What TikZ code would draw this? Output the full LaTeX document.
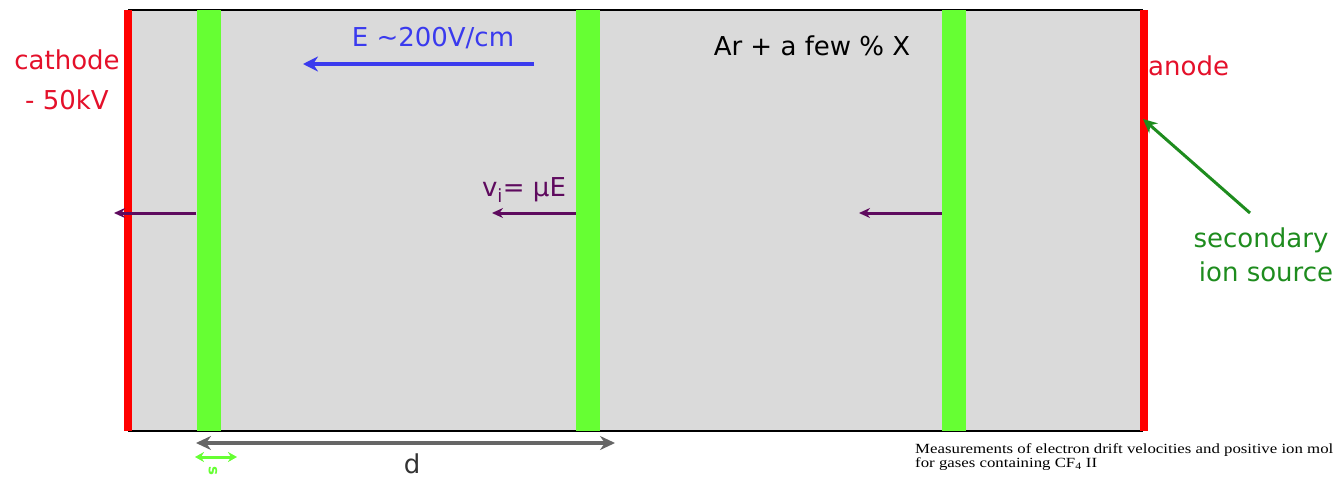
\documentclass[tikz,border=0pt]{standalone}
\usepackage{fontspec}
\setmainfont{DejaVu Sans}
\newfontfamily\capfont{Liberation Serif}
\usetikzlibrary{arrows.meta}
\definecolor{gasgray}{HTML}{DADADA}
\definecolor{elred}{HTML}{FF0000}
\definecolor{txtred}{HTML}{E4102A}
\definecolor{ionband}{HTML}{66FF33}
\definecolor{ionpurple}{HTML}{5E0A5E}
\definecolor{fieldblue}{HTML}{3A3AEE}
\definecolor{srcgreen}{HTML}{1E8C1E}
\definecolor{dimgray}{HTML}{666666}
\tikzset{
  lbl/.style={inner sep=0pt, font=\fontsize{26}{31}\selectfont},
  redbar/.style={fill=elred, inner sep=0pt, minimum width=8pt, minimum height=421pt},
  band/.style={fill=ionband, inner sep=0pt, minimum width=24pt, minimum height=421pt},
  ionarrow/.style={draw=ionpurple, line width=3pt, -{Stealth[length=11pt,width=10pt]}},
}
\begin{document}
\begin{tikzpicture}[x=1pt,y=-1pt]
\useasboundingbox (0,0) rectangle (1339,479);
% gas volume
\fill[gasgray] (128,10) rectangle (1143,431);
\draw[line width=2.5pt] (128,10) -- (1143,10);
\draw[line width=2.5pt] (128,431) -- (1143,431);
% electrodes
\node[redbar] (cathode) at (127.5,220.5) {};
\node[redbar] (anode) at (1143.5,220.5) {};
% ion bands
\node[band] (b1) at (208.5,220.5) {};
\node[band] (b2) at (588,220.5) {};
\node[band] (b3) at (954,220.5) {};
% ion drift arrows
\coordinate (a1) at (114,213);
\coordinate (a2) at (492,213);
\coordinate (a3) at (859,213);
\draw[ionarrow] (b1.west |- a1) -- (a1);
\draw[ionarrow] (b2.west |- a2) -- (a2);
\draw[ionarrow] (b3.west |- a3) -- (a3);
\node[lbl, text=ionpurple] (vi) at (524,190) {v\textsubscript{i}= μE};
% field
\coordinate (e1) at (534,64);
\coordinate (e2) at (303,64);
\draw[draw=fieldblue, line width=4.5pt, -{Stealth[length=15pt,width=15pt]}] (e1) -- (e2);
\node[lbl, text=fieldblue] (E) at (433,38) {E {\char"7E}200V/cm};
\node[lbl] (gas) at (812,46) {Ar + a few \% X};
% labels
\node[lbl, text=txtred] (cath) at (67,60) {cathode};
\node[lbl, text=txtred] (kv) at (67,100) {- 50kV};
\node[lbl, text=txtred, anchor=west] (an) at (1148,66) {anode};
\node[lbl, text=srcgreen] (sec) at (1261,240) {secondary};
\node[lbl, text=srcgreen] (ion) at (1266,272) {ion source};
\coordinate (src) at (1250,213);
\coordinate (tip) at (1143,119);
\draw[draw=srcgreen, line width=3pt, -{Stealth[length=14pt,width=13pt]}] (src) -- (tip);
% dimensions
\coordinate (dl) at (196,443);
\coordinate (dr) at (615,443);
\draw[draw=dimgray, line width=4.5pt, {Stealth[length=15pt,width=14pt]}-{Stealth[length=15pt,width=14pt]}] (dl) -- (dr);
\node[lbl, text=black!80] (d) at (412,464) {d};
\coordinate (sl) at (195,457);
\coordinate (sr) at (237,457);
\draw[draw=ionband, line width=3pt, {Stealth[length=9pt,width=10pt]}-{Stealth[length=9pt,width=10pt]}] (sl) -- (sr);
\node[inner sep=0pt, text=ionband, rotate=-90, font=\fontsize{15}{18}\selectfont\bfseries] (s) at (213,471) {s};
% caption
\node[inner sep=0pt, anchor=north west, align=left, font=\capfont\fontsize{14}{14}\selectfont, xscale=1.2] (cap) at (915,443) {Measurements of electron drift velocities and positive ion mol\\for gases containing CF\textsubscript{4} II};
\end{tikzpicture}
\end{document}
